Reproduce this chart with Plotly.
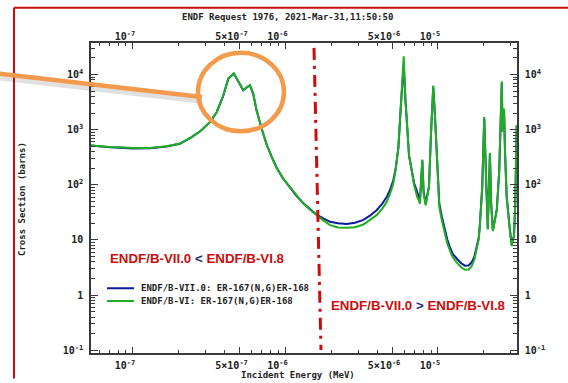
import plotly.graph_objects as go

# ---------------- data ----------------
energy_mev = [5.22e-8, 6.08e-8, 7.06e-8, 8.22e-8, 1.005e-7, 1.29e-7, 1.66e-7, 2.03e-7, 2.37e-7, 2.75e-7,
              3.20e-7, 3.54e-7, 3.91e-7, 4.22e-7, 4.59e-7, 4.90e-7, 5.28e-7, 5.57e-7, 5.85e-7, 6.15e-7,
              6.47e-7, 6.98e-7, 7.53e-7, 8.12e-7, 8.75e-7, 9.64e-7, 1.07e-6, 1.18e-6, 1.31e-6, 1.45e-6,
              1.60e-6, 1.76e-6, 1.96e-6, 2.21e-6, 2.52e-6, 2.86e-6, 3.24e-6, 3.58e-6, 3.96e-6, 4.30e-6,
              4.61e-6, 4.84e-6, 5.09e-6, 5.28e-6, 5.50e-6, 5.71e-6, 5.87e-6, 5.96e-6, 6.11e-6, 6.30e-6,
              6.46e-6, 6.73e-6, 6.97e-6, 7.31e-6, 7.62e-6, 7.89e-6, 8.05e-6, 8.30e-6, 8.73e-6, 8.99e-6,
              9.31e-6, 9.55e-6, 9.89e-6, 1.02e-5, 1.06e-5, 1.11e-5, 1.15e-5, 1.20e-5, 1.25e-5, 1.33e-5,
              1.42e-5, 1.50e-5, 1.585e-5, 1.66e-5, 1.73e-5, 1.79e-5, 1.85e-5, 1.88e-5, 1.95e-5, 1.98e-5,
              2.01e-5, 2.06e-5, 2.12e-5, 2.19e-5, 2.23e-5, 2.29e-5, 2.43e-5, 2.52e-5, 2.58e-5, 2.62e-5,
              2.65e-5, 2.71e-5, 2.75e-5, 2.82e-5, 2.94e-5, 3.04e-5, 3.15e-5, 3.21e-5, 3.28e-5]

xs_b7 = [521, 494, 480, 472, 458, 460, 497, 558, 705, 930,
         1370, 2080, 4150, 8450, 10400, 7550, 5200, 5850, 6420, 4430,
         2220, 1040, 535, 323, 204, 131, 92, 63, 46.5, 35.8,
         28.8, 24.9, 21.4, 20.1, 19.5, 20.5, 23.2, 27.6, 34.7, 45.2,
         60.3, 80.2, 120, 200, 480, 2750, 10700, 15000, 3700, 720,
         340, 185, 108, 74, 52, 280, 75, 46, 95, 813,
         6000, 1820, 180, 45.7, 26.5, 15.5, 10.3, 7.24, 5.59, 4.57,
         3.79, 3.42, 3.45, 3.89, 4.94, 7.4, 11.0, 18.5, 91, 407,
         1600, 178, 16, 370, 47, 15, 36, 180, 1380, 7000,
         933, 2400, 407, 62, 18.5, 8.2, 12, 46, 1200]

xs_b6 = [521, 500, 486, 480, 467, 467, 501, 562, 708, 933,
         1380, 2090, 4170, 8510, 10470, 7590, 5250, 5890, 6460, 4470,
         2240, 1050, 537, 323, 204, 131, 91.2, 62.7, 45.7, 35.3,
         28.2, 22.9, 18.6, 16.9, 16.6, 17.0, 19.1, 23.0, 28.2, 36.8,
         49.0, 68.1, 105, 190, 468, 2750, 10700, 21400, 3630, 708,
         336, 178, 98.4, 60.3, 45.7, 288, 69, 42.7, 91, 813,
         6310, 1820, 178, 39.8, 22.5, 12.6, 8.77, 6.31, 4.84, 3.89,
         3.21, 2.88, 2.92, 3.31, 4.37, 6.76, 10.3, 17.8, 91, 407,
         1700, 178, 15.5, 380, 45.7, 14.5, 34.7, 178, 1380, 7590,
         933, 2400, 407, 60.3, 17.8, 7.76, 11.7, 45.7, 1200]

x_tickvals = [1e-7, 5e-7, 1e-6, 5e-6, 1e-5]
x_ticktext = ["10<sup>-7</sup>", "5×10<sup>-7</sup>", "10<sup>-6</sup>", "5×10<sup>-6</sup>", "10<sup>-5</sup>"]
y_tickvals = [0.1, 1, 10, 100, 1000, 10000]
y_ticktext = ["10<sup>-1</sup>", "1", "10", "10<sup>2</sup>", "10<sup>3</sup>", "10<sup>4</sup>"]

label_b7 = "ENDF/B-VII.0: ER-167(N,G)ER-168"
label_b6 = "ENDF/B-VI: ER-167(N,G)ER-168"
title_text = "ENDF Request 1976, 2021-Mar-31,11:50:50"

BLUE = "#0c1c9c"
GREEN = "#1fae22"
RED = "#cc0d0d"
ORANGE = "#f39a4c"
AXC = "#3a3a3a"

# minor ticks
x_minor = [m * 10.0 ** e for e in (-8, -7, -6, -5) for m in (2, 3, 4, 6, 7, 8, 9)]
x_minor = [v for v in x_minor if 5.2e-8 < v < 3.3e-5]
y_minor = [m * 10.0 ** e for e in (-2, -1, 0, 1, 2, 3, 4) for m in (2, 3, 4, 5, 6, 7, 8, 9)]
y_minor = [v for v in y_minor if 0.09 < v < 3.7e4]

W, H = 568, 383
L, R, T, B = 91, 51, 43, 24
PW, PH = W - L - R, H - T - B


def px(x):
    return (x - L) / PW


def py(y):
    return (H - B - y) / PH


fig = go.Figure()
fig.add_trace(go.Scatter(x=energy_mev, y=xs_b7, mode="lines", line=dict(color=BLUE, width=2),
                         showlegend=False, hoverinfo="skip"))
fig.add_trace(go.Scatter(x=energy_mev, y=xs_b6, mode="lines", line=dict(color=GREEN, width=2),
                         showlegend=False, hoverinfo="skip"))
# invisible trace for the secondary (top/right) axes
fig.add_trace(go.Scatter(x=[1e-6], y=[1], xaxis="x2", yaxis="y2", mode="markers",
                         marker=dict(opacity=0), showlegend=False, hoverinfo="skip"))

tickfont = dict(family="DejaVu Sans Mono", size=10, color="#222", weight="bold")
xr = [-7.275, -4.482]
yr = [-1.050, 4.573]

common_x = dict(type="log", range=xr, tickmode="array", tickvals=x_tickvals, ticktext=x_ticktext,
                ticks="inside", ticklen=6, tickwidth=1.2, tickcolor=AXC, tickfont=tickfont,
                showgrid=False, zeroline=False, showline=True, linecolor=AXC, linewidth=1.5,
                ticklabelshift=-8,
                minor=dict(tickmode="array", tickvals=x_minor, ticks="inside", ticklen=3,
                           tickwidth=1, tickcolor=AXC, showgrid=False))
common_y = dict(type="log", range=yr, tickmode="array", tickvals=y_tickvals, ticktext=y_ticktext,
                ticks="inside", ticklen=7, tickwidth=1.2, tickcolor=AXC, tickfont=tickfont,
                showgrid=False, zeroline=False, showline=True, linecolor=AXC, linewidth=1.5,
                minor=dict(tickmode="array", tickvals=y_minor, ticks="inside", ticklen=4,
                           tickwidth=1, tickcolor=AXC, showgrid=False))

fig.update_layout(
    width=W, height=H, margin=dict(l=L, r=R, t=T, b=B, pad=0),
    paper_bgcolor="white", plot_bgcolor="white", showlegend=False,
    xaxis=dict(**common_x, side="bottom", ticklabelstandoff=2),
    xaxis2=dict(**common_x, side="top", overlaying="x", ticklabelstandoff=-3),
    yaxis=dict(**common_y, side="left", ticklabelstandoff=4),
    yaxis2=dict(**common_y, side="right", overlaying="y", ticklabelstandoff=4),
)

mono = dict(family="DejaVu Sans Mono", size=9, color="#222", weight="bold")
ann = []
ann.append(dict(text=title_text, x=px(287), y=py(17), xref="paper", yref="paper",
                showarrow=False, font=mono, xanchor="center", yanchor="middle"))
ann.append(dict(text="Incident Energy (MeV)", x=px(298), y=py(381), xref="paper", yref="paper",
                showarrow=False, font=mono, xanchor="center", yanchor="middle"))
ann.append(dict(text="Cross Section (barns)", x=px(22), y=py(202), xref="paper", yref="paper",
                showarrow=False, font=mono, textangle=-90, xanchor="center", yanchor="middle"))
# legend
ann.append(dict(text=label_b7, x=px(139), y=py(293), xref="paper", yref="paper",
                showarrow=False, font=mono, xanchor="left", yanchor="middle"))
ann.append(dict(text=label_b6, x=px(139), y=py(306), xref="paper", yref="paper",
                showarrow=False, font=mono, xanchor="left", yanchor="middle"))
# comparison notes
rf = dict(family="Liberation Sans", size=13.3, color=RED, weight="bold")
ann.append(dict(text="ENDF/B-VII.0 <span style='color:#1b2a72'>&lt;</span> ENDF/B-VI.8",
                x=px(108), y=py(263), xref="paper", yref="paper",
                showarrow=False, font=rf, xanchor="left", yanchor="middle"))
ann.append(dict(text="ENDF/B-VII.0 <span style='color:#1b2a72'>&gt;</span> ENDF/B-VI.8",
                x=px(329), y=py(311), xref="paper", yref="paper",
                showarrow=False, font=rf, xanchor="left", yanchor="middle"))
fig.update_layout(annotations=ann)

shapes = []
# red frame
shapes.append(dict(type="line", xref="paper", yref="paper", x0=px(14), x1=px(570), y0=py(7), y1=py(7),
                   line=dict(color=RED, width=2)))
shapes.append(dict(type="line", xref="paper", yref="paper", x0=px(14), x1=px(14), y0=py(7), y1=py(385),
                   line=dict(color=RED, width=2)))
# legend samples
shapes.append(dict(type="line", xref="paper", yref="paper", x0=px(107), x1=px(134), y0=py(293), y1=py(293),
                   line=dict(color=BLUE, width=2)))
shapes.append(dict(type="line", xref="paper", yref="paper", x0=px(107), x1=px(134), y0=py(306), y1=py(306),
                   line=dict(color=GREEN, width=2)))
# dash-dot separator
shapes.append(dict(type="line", xref="paper", yref="paper", x0=px(314), x1=px(321), y0=py(48), y1=py(356),
                   line=dict(color=RED, width=3, dash="12px,6px,3px,6px")))
# orange callout with soft shadow
shapes.append(dict(type="line", xref="paper", yref="paper", x0=px(-2), x1=px(202), y0=py(78), y1=py(102),
                   line=dict(color="rgba(0,0,0,0.12)", width=6)))
shapes.append(dict(type="line", xref="paper", yref="paper", x0=px(-2), x1=px(202), y0=py(74), y1=py(98),
                   line=dict(color=ORANGE, width=4.5)))
shapes.append(dict(type="circle", xref="paper", yref="paper", x0=px(198), x1=px(284), y0=py(53), y1=py(133),
                   line=dict(color=ORANGE, width=4.5)))
fig.update_layout(shapes=shapes)

fig.write_html("out.html")
